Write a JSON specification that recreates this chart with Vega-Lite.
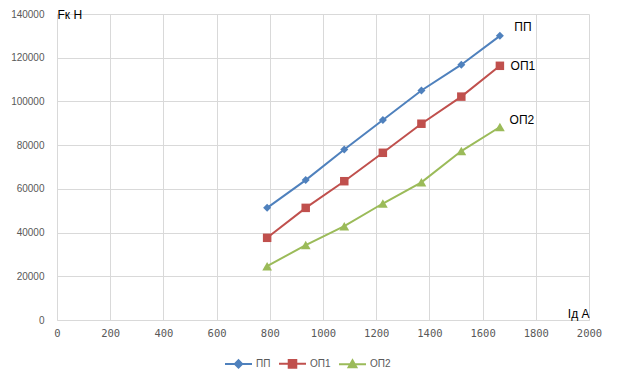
{
  "$schema": "https://vega.github.io/schema/vega-lite/v6.json",
  "width": 532,
  "height": 306,
  "autosize": {"type": "none"},
  "padding": {"left": 57, "top": 14, "right": 28, "bottom": 63},
  "background": "white",
  "config": {"view": {"stroke": null}},
  "data": {
    "values": [
      {"s": "ПП", "I": 790, "F": 51300},
      {"s": "ПП", "I": 935, "F": 64000},
      {"s": "ПП", "I": 1080, "F": 78000},
      {"s": "ПП", "I": 1225, "F": 91500},
      {"s": "ПП", "I": 1370, "F": 105000},
      {"s": "ПП", "I": 1520, "F": 116800},
      {"s": "ПП", "I": 1665, "F": 130000},
      {"s": "ОП1", "I": 790, "F": 37600},
      {"s": "ОП1", "I": 935, "F": 51300},
      {"s": "ОП1", "I": 1080, "F": 63500},
      {"s": "ОП1", "I": 1225, "F": 76500},
      {"s": "ОП1", "I": 1370, "F": 89800},
      {"s": "ОП1", "I": 1520, "F": 102200},
      {"s": "ОП1", "I": 1665, "F": 116300},
      {"s": "ОП2", "I": 790, "F": 24600},
      {"s": "ОП2", "I": 935, "F": 34300},
      {"s": "ОП2", "I": 1080, "F": 42900},
      {"s": "ОП2", "I": 1225, "F": 53300},
      {"s": "ОП2", "I": 1370, "F": 63000},
      {"s": "ОП2", "I": 1520, "F": 77300},
      {"s": "ОП2", "I": 1665, "F": 88300}
    ]
  },
  "encoding": {
    "x": {
      "field": "I", "type": "quantitative",
      "scale": {"domain": [0, 2000], "nice": false, "zero": false},
      "axis": {
        "title": "Iд А", "titleX": 532, "titleY": -7, "titleAlign": "right", "titleBaseline": "middle",
        "titleAnchor": null, "titleFontWeight": "normal", "titleFontSize": 12, "titleColor": "#000000", "titleFont": "Liberation Sans",
        "values": [0, 200, 400, 600, 800, 1000, 1200, 1400, 1600, 1800, 2000], "format": "d",
        "grid": true, "gridColor": "#D9D9D9", "gridWidth": 1, "domainColor": "#D9D9D9", "ticks": false,
        "labelPadding": 8, "labelFontSize": 10.5, "labelColor": "#595959", "labelFont": "DejaVu Sans Mono", "labelFlush": false
      }
    },
    "y": {
      "field": "F", "type": "quantitative",
      "scale": {"domain": [0, 140000], "nice": false},
      "axis": {
        "title": "Fк Н", "titleAngle": 0, "titleX": 0, "titleY": 0, "titleAlign": "left", "titleBaseline": "middle",
        "titleAnchor": null, "titleFontWeight": "normal", "titleFontSize": 12, "titleColor": "#000000", "titleFont": "Liberation Sans",
        "values": [0, 20000, 40000, 60000, 80000, 100000, 120000, 140000],
        "grid": true, "gridColor": "#D9D9D9", "gridWidth": 1, "domain": false, "ticks": false,
        "labelPadding": 13, "labelFontSize": 10, "labelColor": "#595959", "labelFont": "Liberation Sans", "format": "d"
      }
    },
    "color": {
      "field": "s", "type": "nominal",
      "scale": {"domain": ["ПП", "ОП1", "ОП2"], "range": ["#4F81BD", "#C0504D", "#9BBB59"]},
      "legend": {
        "orient": "none", "legendX": 167, "legendY": 335, "direction": "horizontal", "title": null,
        "symbolSize": 729, "symbolStrokeWidth": 2, "labelFont": "Liberation Sans", "labelFontSize": 10,
        "labelColor": "#595959", "labelOffset": 3, "columnPadding": 4,
        "encode": {
          "symbols": {
            "update": {
              "shape": {"signal": "datum.value === 'ПП' ? 'M-1,0H1M-0.27,0L0,-0.27L0.27,0L0,0.27Z' : datum.value === 'ОП1' ? 'M-1,0H1M-0.28,-0.28H0.28V0.28H-0.28Z' : 'M-1,0H1M-0.29,0.22L0,-0.3L0.29,0.22Z'"},
              "size": {"value": 729},
              "fill": {"signal": "scale('color', datum.value)"},
              "stroke": {"signal": "scale('color', datum.value)"},
              "strokeWidth": {"value": 2},
              "opacity": {"value": 1},
              "fillOpacity": {"value": 1}
            }
          }
        }
      }
    }
  },
  "layer": [
    {"mark": {"type": "line", "strokeWidth": 2}},
    {
      "transform": [{"filter": "datum.s === 'ПП'"}],
      "mark": {"type": "point", "filled": true, "opacity": 1, "shape": "diamond", "size": 64}
    },
    {
      "transform": [{"filter": "datum.s === 'ОП1'"}],
      "mark": {"type": "point", "filled": true, "opacity": 1, "shape": "square", "size": 72}
    },
    {
      "transform": [{"filter": "datum.s === 'ОП2'"}],
      "mark": {"type": "point", "filled": true, "opacity": 1, "shape": "triangle-up", "size": 95}
    },
    {
      "transform": [{"filter": "datum.I >= 1600 && datum.s === 'ПП'"}],
      "mark": {"type": "text", "dx": 23, "dy": -9, "fontSize": 12, "font": "Liberation Sans", "align": "center", "baseline": "middle"},
      "encoding": {"text": {"field": "s"}, "color": {"value": "#000000"}}
    },
    {
      "transform": [{"filter": "datum.I >= 1600 && datum.s === 'ОП1'"}],
      "mark": {"type": "text", "dx": 23, "dy": 0, "fontSize": 12, "font": "Liberation Sans", "align": "center", "baseline": "middle"},
      "encoding": {"text": {"field": "s"}, "color": {"value": "#000000"}}
    },
    {
      "transform": [{"filter": "datum.I >= 1600 && datum.s === 'ОП2'"}],
      "mark": {"type": "text", "dx": 22, "dy": -7, "fontSize": 12, "font": "Liberation Sans", "align": "center", "baseline": "middle"},
      "encoding": {"text": {"field": "s"}, "color": {"value": "#000000"}}
    }
  ]
}
